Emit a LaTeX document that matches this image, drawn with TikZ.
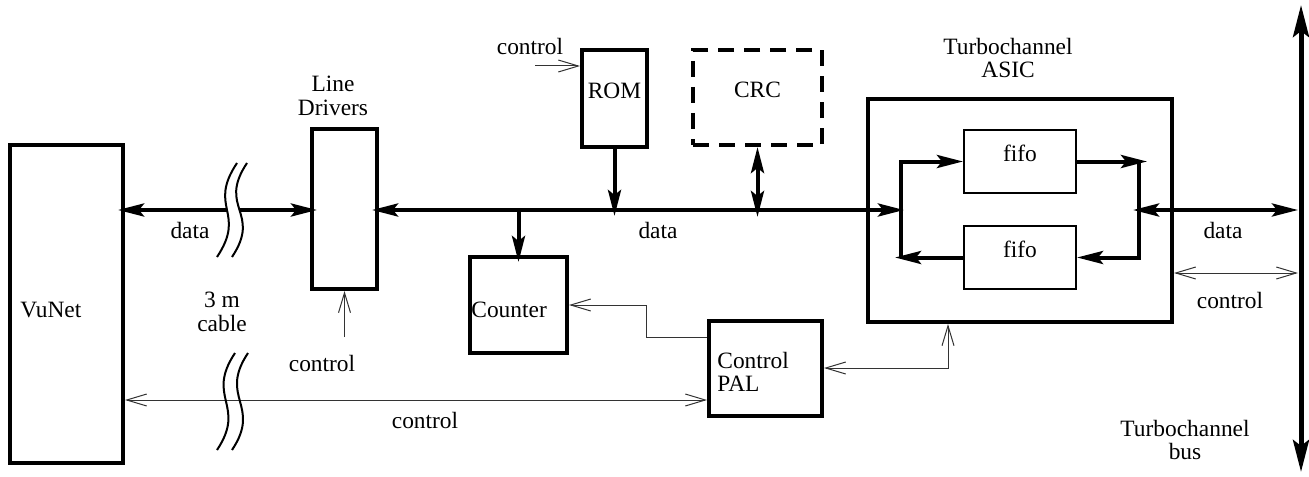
\documentclass[tikz,border=0pt]{standalone}
\usepackage{fontspec}
\setmainfont{Liberation Serif}
\usetikzlibrary{fit,arrows.meta}
\begin{document}
\begin{tikzpicture}[x=0.5pt,y=-0.5pt,
  every node/.style={font=\fontsize{11.7}{11.8}\selectfont, inner sep=0pt},
  blk/.style={draw, line width=2pt, inner sep=0pt},
  dashblk/.style={draw, line width=2pt, inner sep=0pt, dash pattern=on 8pt off 5pt},
  fifobox/.style={draw, line width=1pt, inner sep=0pt},
  dtip/.tip={Stealth[length=13pt,width=6.5pt,inset=2.5pt]},
  ttip/.tip={Straight Barb[length=10pt,width=6pt]},
  btip/.tip={Stealth[length=16pt,width=8pt,inset=3pt]},
  datalink/.style={line width=2pt},
  poke/.style={shorten >=-3.5pt},
  pokeboth/.style={shorten >=-3.5pt, shorten <=-3.5pt},
  ctl/.style={line width=0.5pt, draw=black!80},
  buslink/.style={line width=2.5pt},
  squig/.style={line width=1pt}]
\useasboundingbox (0,0) rectangle (1309,476);

% boxes
\node[blk, fit={(10,145) (123,463)}] (VuNet) {};
\node[anchor=west] (vulab) at (20,310) {VuNet};
\node[blk, fit={(312,129) (377,289)}] (LD) {};
\node[align=center] (ldlab) at (333,96) {Line\\Drivers};
\node[blk, fit={(582,50) (647,147)}] (ROM) {ROM};
\node[dashblk, fit={(693,50) (822,145)}] (CRC) {CRC};
\node[blk, fit={(470,257) (567,353)}] (Counter) {};
\node[anchor=west] (cntlab) at (471,310) {Counter};
\node[blk, fit={(709,321) (822,416)}] (PAL) {};
\node[anchor=west, align=left] (pallab) at (717,372) {Control\\PAL};
\node[blk, fit={(868,99) (1172,322)}] (ASIC) {};
\node[align=center] (asiclab) at (1008,58) {Turbochannel\\ASIC};
\node[fifobox, fit={(964,130) (1076,193)}] (fifoA) {fifo};
\node[fifobox, fit={(964,226) (1076,289)}] (fifoB) {fifo};

% helper coordinates
\coordinate (dy) at (0,210);
\coordinate (busT) at (1301,5);
\coordinate (busB) at (1301,472);
\coordinate (lvT) at (901,161.5);
\coordinate (lvB) at (901,257.5);
\coordinate (lin) at (904,210);
\coordinate (lout) at (895,257.5);
\coordinate (rvT) at (1139,161.5);
\coordinate (rvB) at (1139,257.5);
\coordinate (rout) at (1147,161.5);
\coordinate (rin) at (1133,210);
\coordinate (busD) at (1298,210);
\coordinate (busC) at (1298,273);
\coordinate (romc) at (535,66);
\coordinate (ldc) at (344.5,337);
\coordinate (palk) at (646,305);
\coordinate (asick) at (948,0);

% data: VuNet <-> line drivers, with cable break
\draw[datalink, dtip-dtip, pokeboth] (VuNet.east |- dy) -- (LD.west |- dy);
\fill[white] (217,257) .. controls (247,212) and (207,208) .. (237,163)
   -- (247,163) .. controls (217,208) and (262,212) .. (232,257) -- cycle;
\draw[squig] (217,257) .. controls (247,212) and (207,208) .. (237,163);
\draw[squig] (232,257) .. controls (262,212) and (217,208) .. (247,163);
\node (data1) at (190,230) {data};
\node[align=center] (cable) at (222,312) {3 m\\cable};

% main data bus
\draw[datalink, dtip-dtip, shorten <=-3.5pt] (LD.east |- dy) -- (lin);
\draw[datalink, -dtip, poke] (Counter.north |- dy) -- (Counter.north);
\draw[datalink, -dtip, shorten >=-3pt] (ROM.south) -- (ROM.south |- dy);
\draw[datalink, dtip-dtip, shorten <=-3.5pt] (CRC.south |- dy) -- (CRC.south);
\node (data2) at (658,230) {data};

% inside ASIC
\draw[datalink, -dtip] (lvB) -- (lvT) -- (fifoA.west);
\draw[datalink, -dtip] (fifoB.west) -- (lout);
\draw[datalink, -dtip] (fifoA.east) -- (rout);
\draw[datalink, -dtip] (rvT) -- (rvB) -- (fifoB.east);
\draw[datalink, dtip-dtip] (rin) -- (busD);
\node (data3) at (1223,230) {data};

% Turbochannel bus
\draw[buslink, btip-btip] (busB) -- (busT);
\node[align=center] (buslab) at (1185,440) {Turbochannel\\bus};

% control lines
\draw[ctl, ttip-ttip] (ASIC.east |- busC) -- (busC);
\node (ctl1) at (1230,300) {control};
\draw[ctl, -ttip] (romc) -- (ROM.west |- romc);
\node (ctl2) at (530,46) {control};
\draw[ctl, -ttip] (ldc) -- (LD.south);
\node (ctl3) at (322,363) {control};
\draw[ctl, -ttip] (PAL.west |- 0,337) -| (palk) -- (Counter.east |- palk);
\draw[ctl, ttip-ttip] (PAL.east |- 0,368) -| (ASIC.south -| asick);
\draw[ctl, ttip-ttip] (VuNet.east |- 0,400) -- (PAL.west |- 0,400);
\draw[squig] (217,450) .. controls (247,405) and (205,398) .. (235,353);
\draw[squig] (232,450) .. controls (262,405) and (218,398) .. (248,353);
\node (ctl4) at (425,420) {control};
\end{tikzpicture}
\end{document}
